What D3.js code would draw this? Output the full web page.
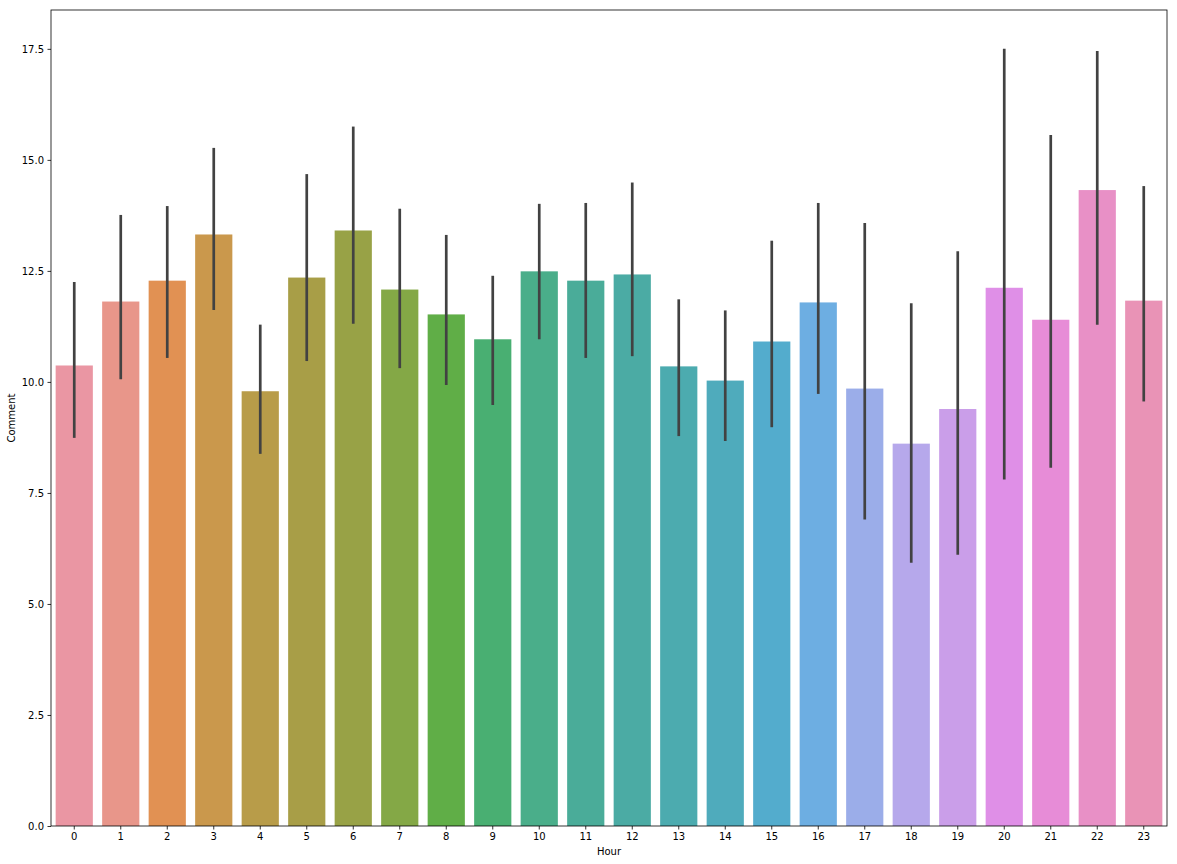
<!DOCTYPE html>
<html>
<head>
<meta charset="utf-8">
<script src="https://cdn.jsdelivr.net/npm/d3@7"></script>
<style>
  html, body { margin: 0; padding: 0; background: #fff; }
  svg { display: block; }
  text { font-family: "DejaVu Sans", sans-serif; }
</style>
</head>
<body>
<svg id="chart" width="1177" height="864"></svg>
<script>
// ---- Data ----
const hours = ["0","1","2","3","4","5","6","7","8","9","10","11","12","13","14","15","16","17","18","19","20","21","22","23"];
const commentMean = [10.37, 11.81, 12.28, 13.32, 9.79, 12.35, 13.41, 12.08, 11.52, 10.96, 12.49, 12.28,
                     12.42, 10.35, 10.03, 10.91, 11.79, 9.85, 8.61, 9.39, 12.12, 11.40, 14.32, 11.83];
const ciLow  = [8.74, 10.06, 10.54, 11.62, 8.38, 10.47, 11.31, 10.31, 9.93, 9.48, 10.96, 10.54,
                10.58, 8.78, 8.67, 8.98, 9.73, 6.90, 5.93, 6.11, 7.80, 8.07, 11.29, 9.56];
const ciHigh = [12.25, 13.76, 13.96, 15.27, 11.29, 14.68, 15.75, 13.90, 13.31, 12.39, 14.01, 14.03,
                14.49, 11.86, 11.61, 13.18, 14.03, 13.58, 11.77, 12.94, 17.50, 15.56, 17.45, 14.41];
const yTicks = [0, 2.5, 5, 7.5, 10, 12.5, 15, 17.5];

// ---- HUSL palette, desaturated 0.75 ----
function huslToRgb(H, S, L) {
  const m = [[3.2406, -1.5372, -0.4986], [-0.9689, 1.8758, 0.0415], [0.0557, -0.2040, 1.0570]];
  const refU = 0.19784, refV = 0.46834, kappa = 903.2962962, eps = 0.0088564516;
  function maxChroma(L, H) {
    const hrad = H / 360 * 2 * Math.PI, sinH = Math.sin(hrad), cosH = Math.cos(hrad);
    const sub1 = Math.pow(L + 16, 3) / 1560896;
    const sub2 = sub1 > eps ? sub1 : L / kappa;
    let result = Infinity;
    for (const [m1, m2, m3] of m) {
      const tp = (0.99915 * m1 + 1.05122 * m2 + 1.14460 * m3) * sub2;
      const rb = 0.86330 * m3 - 0.17266 * m2;
      const lb = 0.12949 * m3 - 0.38848 * m1;
      const bt = (rb * sinH + lb * cosH) * sub2;
      for (const t of [0, 1]) {
        const C = L * (tp - 1.05122 * t) / (bt + 0.17266 * sinH * t);
        if (C > 0 && C < result) result = C;
      }
    }
    return result;
  }
  const C = maxChroma(L, H) / 100 * S;
  const hrad = H / 360 * 2 * Math.PI;
  const U = C * Math.cos(hrad), V = C * Math.sin(hrad);
  const fInv = t => Math.pow(t, 3) > eps ? Math.pow(t, 3) : (116 * t - 16) / kappa;
  const varY = fInv((L + 16) / 116);
  const varU = U / (13 * L) + refU, varV = V / (13 * L) + refV;
  const Y = varY;
  const X = -(9 * Y * varU) / ((varU - 4) * varV - varU * varV);
  const Z = (9 * Y - 15 * varV * Y - varV * X) / (3 * varV);
  const fromLin = c => c <= 0.0031308 ? 12.92 * c : 1.055 * Math.pow(c, 1 / 2.4) - 0.055;
  return m.map(r => Math.min(1, Math.max(0, fromLin(r[0] * X + r[1] * Y + r[2] * Z))));
}
function desaturate(rgb, prop) {
  const [r, g, b] = rgb;
  const mx = Math.max(r, g, b), mn = Math.min(r, g, b);
  const l = (mx + mn) / 2;
  if (mx === mn) return rgb;
  const d = mx - mn;
  let s = l <= 0.5 ? d / (mx + mn) : d / (2 - mx - mn);
  let h;
  const rc = (mx - r) / d, gc = (mx - g) / d, bc = (mx - b) / d;
  if (r === mx) h = bc - gc; else if (g === mx) h = 2 + rc - bc; else h = 4 + gc - rc;
  h = ((h / 6) % 1 + 1) % 1;
  s *= prop;
  const m2 = l <= 0.5 ? l * (1 + s) : l + s - l * s;
  const m1 = 2 * l - m2;
  const v = (hue) => {
    hue = ((hue % 1) + 1) % 1;
    if (hue < 1 / 6) return m1 + (m2 - m1) * hue * 6;
    if (hue < 0.5) return m2;
    if (hue < 2 / 3) return m1 + (m2 - m1) * (2 / 3 - hue) * 6;
    return m1;
  };
  return [v(h + 1 / 3), v(h), v(h - 1 / 3)];
}
const barColors = hours.map((_, i) => {
  const h = (i / hours.length + 0.01) % 1;
  const rgb = desaturate(huslToRgb(h * 359, 0.9 * 99, 0.7 * 99), 0.75);
  return d3.rgb(rgb[0] * 255, rgb[1] * 255, rgb[2] * 255).formatHex();
});

// ---- Layout ----
const svg = d3.select("#chart");
const mLeft = 51, mRight = 1167, mTop = 10, mBottom = 826;

const x = d3.scaleBand().domain(hours).range([mLeft, mRight]).paddingInner(0.2).paddingOuter(0.1);
const yMax = d3.max(ciHigh) * 1.05;
const y = d3.scaleLinear().domain([0, yMax]).range([mBottom, mTop]);

// bars
svg.append("g").selectAll("rect").data(hours).join("rect")
  .attr("x", d => x(d))
  .attr("width", x.bandwidth())
  .attr("y", (d, i) => y(commentMean[i]))
  .attr("height", (d, i) => y(0) - y(commentMean[i]))
  .attr("fill", (d, i) => barColors[i]);

// error bars
svg.append("g").selectAll("line").data(hours).join("line")
  .attr("x1", d => x(d) + x.bandwidth() / 2)
  .attr("x2", d => x(d) + x.bandwidth() / 2)
  .attr("y1", (d, i) => y(ciLow[i]))
  .attr("y2", (d, i) => y(ciHigh[i]))
  .attr("stroke", "#424242")
  .attr("stroke-width", 2.7);

// axes
const xAxis = svg.append("g").attr("transform", `translate(0,${mBottom})`)
  .call(d3.axisBottom(x).tickSize(3.5).tickPadding(3.5).tickSizeOuter(0));
const yAxis = svg.append("g").attr("transform", `translate(${mLeft},0)`)
  .call(d3.axisLeft(y).tickValues(yTicks).tickFormat(d3.format(".1f")).tickSize(3.5).tickPadding(3.5).tickSizeOuter(0));
[xAxis, yAxis].forEach(g => {
  g.select(".domain").remove();
  g.selectAll(".tick line").attr("stroke", "#000").attr("stroke-width", 0.8);
  g.selectAll(".tick text").attr("fill", "#000").style("font-size", "10px").style("font-family", "DejaVu Sans");
});

// frame
svg.append("rect").attr("x", mLeft).attr("y", mTop)
  .attr("width", mRight - mLeft).attr("height", mBottom - mTop)
  .attr("fill", "none").attr("stroke", "#000").attr("stroke-width", 0.8);

// labels
svg.append("text").attr("x", (mLeft + mRight) / 2).attr("y", 855)
  .attr("text-anchor", "middle").style("font-size", "10px").attr("fill", "#000").text("Hour");
svg.append("text").attr("transform", `translate(15,${(mTop + mBottom) / 2}) rotate(-90)`)
  .attr("text-anchor", "middle").style("font-size", "10px").attr("fill", "#000").text("Comment");
</script>
</body>
</html>
